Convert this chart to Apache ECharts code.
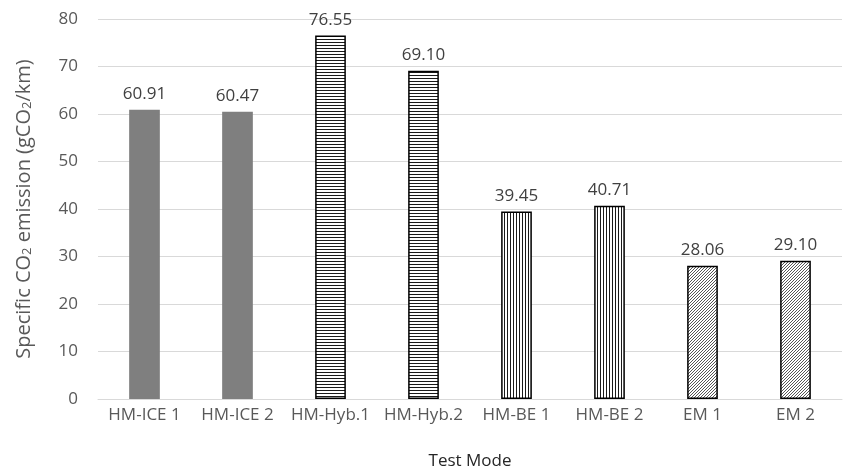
<!DOCTYPE html>
<html>
<head>
<meta charset="utf-8">
<script src="https://cdn.jsdelivr.net/npm/echarts@6/dist/echarts.min.js"></script>
<style>
  html, body { margin: 0; padding: 0; background: #fff; }
  #chart { width: 854px; height: 475px; }
</style>
</head>
<body>
<div id="chart"></div>
<script>
// Test modes and their specific CO2 emission (gCO2/km)
const categories = ['HM-ICE 1', 'HM-ICE 2', 'HM-Hyb.1', 'HM-Hyb.2', 'HM-BE 1', 'HM-BE 2', 'EM 1', 'EM 2'];
const emissions = [60.91, 60.47, 76.55, 69.10, 39.45, 40.71, 28.06, 29.10];
const yTicks = [0, 10, 20, 30, 40, 50, 60, 70, 80];

// Fill style for each bar: solid, horizontal, vertical or diagonal hatching
const fillKinds = ['solid', 'solid', 'hlines', 'hlines', 'vlines', 'vlines', 'diag', 'diag'];

const FONT = '"Open Sans", "Noto Sans", sans-serif';

function makePattern(kind) {
  const c = document.createElement('canvas');
  const s = 3;
  c.width = s; c.height = s;
  const g = c.getContext('2d');
  g.fillStyle = '#ffffff';
  g.fillRect(0, 0, s, s);
  if (kind === 'hlines') {
    g.fillStyle = '#1a1a1a';
    g.fillRect(0, 0, s, 1);
  } else if (kind === 'vlines') {
    g.fillStyle = '#1a1a1a';
    g.fillRect(0, 0, 1, s);
  } else if (kind === 'diag') {
    g.fillStyle = '#555555';
    for (let i = 0; i < s; i++) {
      g.fillRect(s - 1 - i, i, 1, 1);
    }
  }
  return { image: c, repeat: 'repeat' };
}

const dataItems = emissions.map((v, i) => {
  const kind = fillKinds[i];
  if (kind === 'solid') {
    return { value: v, itemStyle: { color: '#7f7f7f', borderWidth: 0 } };
  }
  return {
    value: v,
    itemStyle: { color: makePattern(kind), borderColor: '#000000', borderWidth: 1.5 }
  };
});

const chart = echarts.init(document.getElementById('chart'), null, { renderer: 'canvas' });
chart.setOption({
  animation: false,
  backgroundColor: '#ffffff',
  grid: { left: 98, right: 12, top: 19, bottom: 76, containLabel: false },
  xAxis: {
    type: 'category',
    data: categories,
    name: 'Test Mode',
    nameLocation: 'middle',
    nameGap: 54,
    nameTextStyle: { color: '#262626', fontSize: 17, fontFamily: FONT },
    axisLine: { show: true, lineStyle: { color: '#d9d9d9', width: 1 } },
    axisTick: { show: false },
    axisLabel: { color: '#595959', fontSize: 17, fontFamily: FONT, margin: 8, interval: 0 }
  },
  yAxis: {
    type: 'value',
    min: yTicks[0],
    max: yTicks[yTicks.length - 1],
    interval: 10,
    name: 'Specific CO{sub|2} emission (gCO{sub|2}/km)',
    nameLocation: 'middle',
    nameGap: 64,
    nameRotate: 90,
    nameTextStyle: {
      color: '#595959', fontSize: 20, fontFamily: FONT,
      rich: {
        sub: { fontSize: 13, fontFamily: FONT, color: '#595959', verticalAlign: 'bottom', padding: [7, 0, 0, 0] }
      }
    },
    axisLine: { show: false },
    axisTick: { show: false },
    axisLabel: { color: '#595959', fontSize: 17, fontFamily: FONT, margin: 20 },
    splitLine: { lineStyle: { color: '#d9d9d9', width: 1 } }
  },
  series: [{
    type: 'bar',
    data: dataItems,
    barWidth: '33%',
    label: {
      show: true,
      position: 'top',
      distance: 7,
      color: '#404040',
      fontSize: 17,
      fontFamily: FONT,
      formatter: p => p.value.toFixed(2)
    }
  }]
});
</script>
</body>
</html>
